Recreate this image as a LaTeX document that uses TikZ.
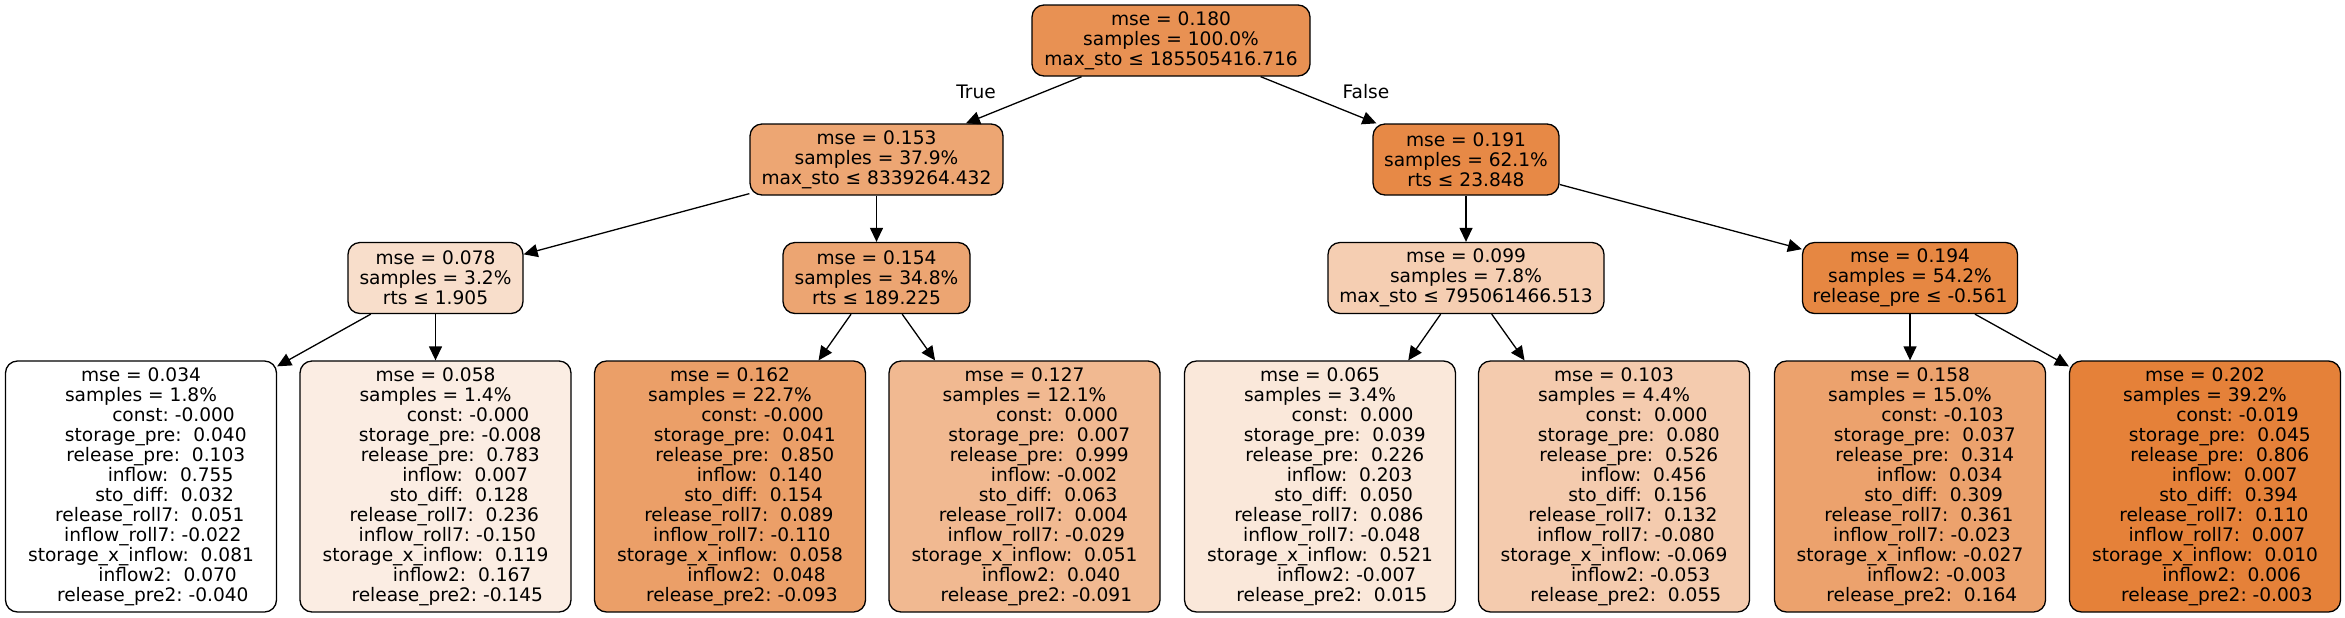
\documentclass[tikz,border=0pt]{standalone}
\usepackage{fontspec}
\setmainfont{DejaVu Sans}
\usetikzlibrary{arrows.meta}

\definecolor{c180}{RGB}{232,145,83}
\definecolor{c153}{RGB}{237,166,115}
\definecolor{c191}{RGB}{231,137,70}
\definecolor{c078}{RGB}{248,222,203}
\definecolor{c154}{RGB}{236,165,114}
\definecolor{c099}{RGB}{245,206,178}
\definecolor{c194}{RGB}{230,135,66}
\definecolor{c034}{RGB}{255,255,255}
\definecolor{c058}{RGB}{251,237,227}
\definecolor{c162}{RGB}{235,159,104}
\definecolor{c127}{RGB}{241,185,145}
\definecolor{c065}{RGB}{250,232,218}
\definecolor{c103}{RGB}{244,203,174}
\definecolor{c158}{RGB}{236,162,109}
\definecolor{c202}{RGB}{229,129,57}

% one coefficient line: leading pad (in spaces), name, value
\newcommand{\cl}[3]{\hspace*{#1\fontdimen2\font}#2:\ #3}

\begin{document}
\begin{tikzpicture}[x=0.5pt, y=-0.5pt, >={Triangle[length=7pt,width=6.5pt]},
  splitbox/.style={draw, line width=0.65pt, rounded corners=6pt, align=center,
    inner sep=0pt, minimum height=35.5pt, font=\fontsize{9.3}{10}\selectfont},
  leafbox/.style={splitbox, minimum width=135.5pt, minimum height=125.5pt},
  link/.style={->, line width=0.65pt},
  lbl/.style={font=\fontsize{9.3}{10}\selectfont, inner sep=0pt}]
  \useasboundingbox (0,0) rectangle (2345,617);

  % splits
  \node[splitbox, fill=c180, minimum width=139pt] (n180) at (1171,40.5)
    {mse = 0.180\\samples = 100.0\%\\max\_sto ≤ 185505416.716};
  \node[splitbox, fill=c153, minimum width=126.5pt] (n153) at (876.5,159.5)
    {mse = 0.153\\samples = 37.9\%\\max\_sto ≤ 8339264.432};
  \node[splitbox, fill=c191, minimum width=93pt] (n191) at (1466,159.5)
    {mse = 0.191\\samples = 62.1\%\\rts ≤ 23.848};
  \node[splitbox, fill=c078, minimum width=87.5pt] (n078) at (435.5,278)
    {mse = 0.078\\samples = 3.2\%\\rts ≤ 1.905};
  \node[splitbox, fill=c154, minimum width=93.5pt] (n154) at (876.5,278)
    {mse = 0.154\\samples = 34.8\%\\rts ≤ 189.225};
  \node[splitbox, fill=c099, minimum width=138pt] (n099) at (1466,278)
    {mse = 0.099\\samples = 7.8\%\\max\_sto ≤ 795061466.513};
  \node[splitbox, fill=c194, minimum width=107.5pt] (n194) at (1910,278)
    {mse = 0.194\\samples = 54.2\%\\release\_pre ≤ -0.561};

  % leaves
  \node[leafbox, fill=c034] (n034) at (141,486.5)
    {mse = 0.034\\samples = 1.8\%\\\cl{11}{const}{-0.000}\\\cl{5}{storage\_pre}{\ 0.040}\\
     \cl{5}{release\_pre}{\ 0.103}\\\cl{10}{inflow}{\ 0.755}\\\cl{8}{sto\_diff}{\ 0.032}\\
     \cl{3}{release\_roll7}{\ 0.051}\\\cl{4}{inflow\_roll7}{-0.022}\\\cl{0}{storage\_x\_inflow}{\ 0.081}\\
     \cl{9}{inflow2}{\ 0.070}\\\cl{4}{release\_pre2}{-0.040}};
  \node[leafbox, fill=c058] (n058) at (435.5,486.5)
    {mse = 0.058\\samples = 1.4\%\\\cl{11}{const}{-0.000}\\\cl{5}{storage\_pre}{-0.008}\\
     \cl{5}{release\_pre}{\ 0.783}\\\cl{10}{inflow}{\ 0.007}\\\cl{8}{sto\_diff}{\ 0.128}\\
     \cl{3}{release\_roll7}{\ 0.236}\\\cl{4}{inflow\_roll7}{-0.150}\\\cl{0}{storage\_x\_inflow}{\ 0.119}\\
     \cl{9}{inflow2}{\ 0.167}\\\cl{4}{release\_pre2}{-0.145}};
  \node[leafbox, fill=c162] (n162) at (730,486.5)
    {mse = 0.162\\samples = 22.7\%\\\cl{11}{const}{-0.000}\\\cl{5}{storage\_pre}{\ 0.041}\\
     \cl{5}{release\_pre}{\ 0.850}\\\cl{10}{inflow}{\ 0.140}\\\cl{8}{sto\_diff}{\ 0.154}\\
     \cl{3}{release\_roll7}{\ 0.089}\\\cl{4}{inflow\_roll7}{-0.110}\\\cl{0}{storage\_x\_inflow}{\ 0.058}\\
     \cl{9}{inflow2}{\ 0.048}\\\cl{4}{release\_pre2}{-0.093}};
  \node[leafbox, fill=c127] (n127) at (1024.5,486.5)
    {mse = 0.127\\samples = 12.1\%\\\cl{11}{const}{\ 0.000}\\\cl{5}{storage\_pre}{\ 0.007}\\
     \cl{5}{release\_pre}{\ 0.999}\\\cl{10}{inflow}{-0.002}\\\cl{8}{sto\_diff}{\ 0.063}\\
     \cl{3}{release\_roll7}{\ 0.004}\\\cl{4}{inflow\_roll7}{-0.029}\\\cl{0}{storage\_x\_inflow}{\ 0.051}\\
     \cl{9}{inflow2}{\ 0.040}\\\cl{4}{release\_pre2}{-0.091}};
  \node[leafbox, fill=c065] (n065) at (1320,486.5)
    {mse = 0.065\\samples = 3.4\%\\\cl{11}{const}{\ 0.000}\\\cl{5}{storage\_pre}{\ 0.039}\\
     \cl{5}{release\_pre}{\ 0.226}\\\cl{10}{inflow}{\ 0.203}\\\cl{8}{sto\_diff}{\ 0.050}\\
     \cl{3}{release\_roll7}{\ 0.086}\\\cl{4}{inflow\_roll7}{-0.048}\\\cl{0}{storage\_x\_inflow}{\ 0.521}\\
     \cl{9}{inflow2}{-0.007}\\\cl{4}{release\_pre2}{\ 0.015}};
  \node[leafbox, fill=c103] (n103) at (1614,486.5)
    {mse = 0.103\\samples = 4.4\%\\\cl{11}{const}{\ 0.000}\\\cl{5}{storage\_pre}{\ 0.080}\\
     \cl{5}{release\_pre}{\ 0.526}\\\cl{10}{inflow}{\ 0.456}\\\cl{8}{sto\_diff}{\ 0.156}\\
     \cl{3}{release\_roll7}{\ 0.132}\\\cl{4}{inflow\_roll7}{-0.080}\\\cl{0}{storage\_x\_inflow}{-0.069}\\
     \cl{9}{inflow2}{-0.053}\\\cl{4}{release\_pre2}{\ 0.055}};
  \node[leafbox, fill=c158] (n158) at (1910,486.5)
    {mse = 0.158\\samples = 15.0\%\\\cl{11}{const}{-0.103}\\\cl{5}{storage\_pre}{\ 0.037}\\
     \cl{5}{release\_pre}{\ 0.314}\\\cl{10}{inflow}{\ 0.034}\\\cl{8}{sto\_diff}{\ 0.309}\\
     \cl{3}{release\_roll7}{\ 0.361}\\\cl{4}{inflow\_roll7}{-0.023}\\\cl{0}{storage\_x\_inflow}{-0.027}\\
     \cl{9}{inflow2}{-0.003}\\\cl{4}{release\_pre2}{\ 0.164}};
  \node[leafbox, fill=c202] (n202) at (2205,486.5)
    {mse = 0.202\\samples = 39.2\%\\\cl{11}{const}{-0.019}\\\cl{5}{storage\_pre}{\ 0.045}\\
     \cl{5}{release\_pre}{\ 0.806}\\\cl{10}{inflow}{\ 0.007}\\\cl{8}{sto\_diff}{\ 0.394}\\
     \cl{3}{release\_roll7}{\ 0.110}\\\cl{4}{inflow\_roll7}{\ 0.007}\\\cl{0}{storage\_x\_inflow}{\ 0.010}\\
     \cl{9}{inflow2}{\ 0.006}\\\cl{4}{release\_pre2}{-0.003}};

  % edges
  \node[lbl] (ltrue) at (976,92) {True};
  \node[lbl] (lfalse) at (1366,92) {False};
  \draw[link] (n180) -- (n153);
  \draw[link] (n180) -- (n191);
  \draw[link] (n153) -- (n078);
  \draw[link] (n153) -- (n154);
  \draw[link] (n191) -- (n099);
  \draw[link] (n191) -- (n194);
  \draw[link] (n078) -- ([yshift=-3pt]n034.north east);
  \draw[link] (n078) -- (n058);
  \draw[link] (n154) -- (n162);
  \draw[link] (n154) -- (n127);
  \draw[link] (n099) -- (n065);
  \draw[link] (n099) -- (n103);
  \draw[link] (n194) -- (n158);
  \draw[link] (n194) -- ([yshift=-3pt]n202.north west);
\end{tikzpicture}
\end{document}
